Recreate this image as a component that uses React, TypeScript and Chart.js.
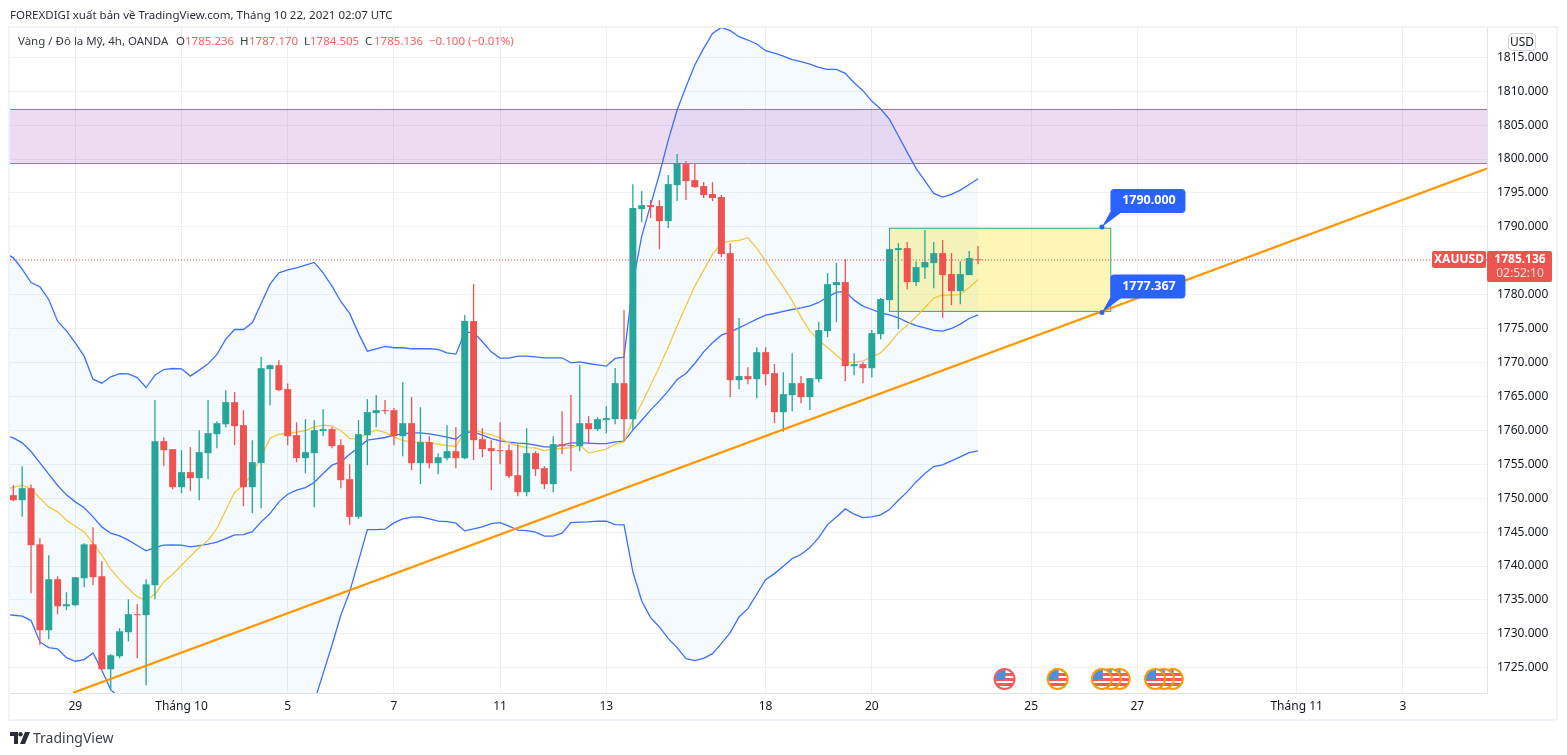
import { useEffect, useRef } from "react";
import { Chart, registerables } from "chart.js";

Chart.register(...registerables);

const FONT = '"Noto Sans", sans-serif';
const UP = "#26a69a";
const DOWN = "#ef5350";
const BLUE = "#2962ff";

// 4h candles, index 0 is the first one visible on the left
const opens = [
  1750.44, 1749.7, 1751.48, 1743.2, 1730.53, 1738.05, 1734.07, 1734.22, 1738.2, 1743.2,
  1738.5, 1724.78, 1726.7, 1730.24, 1732.9, 1732.75, 1737.17, 1758.41, 1757.23, 1751.62,
  1753.84, 1752.95, 1756.64, 1759.44, 1760.9, 1764.16, 1760.77, 1751.62, 1755.17, 1769.02,
  1769.61, 1766.08, 1759.3, 1755.9, 1756.64, 1759.9, 1760.18, 1757.82, 1752.8, 1747.25,
  1759.29, 1762.54, 1762.98, 1762.98, 1759.15, 1761.06, 1755.16, 1758.26, 1755.16, 1755.9,
  1756.93, 1755.9, 1776.11, 1758.7, 1757.38, 1757.08, 1757.08, 1753.39, 1750.89, 1756.64,
  1754.43, 1752.07, 1757.97, 1757.82, 1757.67, 1761.06, 1760.18, 1761.5, 1761.65, 1766.96,
  1761.65, 1792.62, 1793.21, 1793.07, 1790.85, 1796.16, 1799.26, 1796.9, 1796.02, 1794.84,
  1794.4, 1786.13, 1767.4, 1768, 1767.55, 1771.53, 1768.43, 1762.68, 1765.19, 1766.96,
  1764.9, 1767.55, 1774.63, 1781.41, 1781.86, 1769.47, 1769.76, 1769.17, 1774.19, 1779.2,
  1786.58, 1786.87, 1781.86, 1784.02, 1784.66, 1786.13, 1783.04, 1780.53, 1782.89, 1785.236,
];
const closes = [
  1749.7, 1751.48, 1743.07, 1730.53, 1738.05, 1734.07, 1734.37, 1738.35, 1743.2, 1738.35,
  1724.78, 1726.85, 1730.38, 1732.9, 1732.75, 1737.3, 1758.41, 1757.08, 1751.62, 1753.84,
  1752.95, 1756.79, 1759.59, 1761.06, 1764.16, 1760.62, 1751.62, 1755.31, 1769.17, 1769.61,
  1765.93, 1759.15, 1755.9, 1756.79, 1760.03, 1760.18, 1757.67, 1752.66, 1747.25, 1759.44,
  1762.69, 1762.98, 1762.83, 1759.15, 1761.06, 1755.16, 1758.26, 1755.16, 1756.05, 1756.93,
  1755.9, 1776.11, 1758.56, 1757.23, 1756.93, 1756.93, 1753.25, 1750.89, 1756.64, 1754.28,
  1752.07, 1757.97, 1757.67, 1757.67, 1761.06, 1760.18, 1761.65, 1761.8, 1766.96, 1761.65,
  1792.77, 1793.21, 1792.92, 1790.85, 1796.31, 1799.41, 1796.75, 1795.87, 1794.69, 1794.25,
  1785.99, 1767.4, 1768, 1767.55, 1771.53, 1768.29, 1762.68, 1765.34, 1766.96, 1764.9,
  1767.7, 1774.78, 1781.56, 1781.86, 1769.47, 1769.76, 1769.17, 1774.33, 1779.35, 1786.72,
  1786.87, 1781.86, 1784.07, 1784.81, 1786.13, 1782.89, 1780.53, 1783.04, 1785.4, 1785.136,
];
const highs = [
  1751.9, 1754.72, 1752.02, 1744.1, 1741.6, 1738.5, 1736.14, 1738.35, 1743.36, 1745.72,
  1740.71, 1727, 1730.83, 1735.1, 1734.37, 1738.05, 1764.46, 1759, 1757.23, 1757.08,
  1757.52, 1760.03, 1764.46, 1761.36, 1765.93, 1765.64, 1762.98, 1758.56, 1770.8, 1769.7,
  1770.35, 1766.9, 1761.2, 1761.65, 1761.5, 1763.1, 1760.47, 1758.7, 1755, 1761.5,
  1764.6, 1765.2, 1764.46, 1763.28, 1767.11, 1764.9, 1763.42, 1759.15, 1756.64, 1760.77,
  1760.47, 1777, 1781.57, 1760.33, 1758.56, 1761.21, 1757.97, 1757.97, 1760.33, 1756.93,
  1754.72, 1759.15, 1762.83, 1765.2, 1769.62, 1762.1, 1761.95, 1763.57, 1769.18, 1777.73,
  1796.3, 1795.28, 1793.95, 1793.95, 1797.64, 1800.74, 1799.7, 1799.26, 1796.6, 1796.6,
  1794.69, 1787.6, 1776.55, 1769.32, 1772.27, 1772.27, 1769.76, 1768.58, 1771.38, 1768,
  1767.7, 1775.96, 1783.18, 1784.66, 1785.25, 1771.38, 1770.06, 1774.78, 1779.5, 1786.72,
  1787.6, 1787.76, 1784.95, 1789.53, 1787.76, 1788.05, 1786.13, 1784.95, 1786.43, 1787.17,
];
const lows = [
  1749.56, 1747.25, 1735.99, 1728.32, 1729.2, 1732.9, 1733.48, 1734.07, 1736.87, 1737.17,
  1724.78, 1721.7, 1726.4, 1728.9, 1726.4, 1722.42, 1735.1, 1754.72, 1751.33, 1750.74,
  1751.03, 1749.7, 1752.8, 1757.38, 1760.47, 1757.82, 1748.82, 1747.79, 1748.53, 1763.7,
  1765.78, 1757.82, 1755.3, 1753.69, 1748.67, 1759.15, 1757.38, 1751.48, 1746.07, 1746.95,
  1754.87, 1760.47, 1762.39, 1757.82, 1756.2, 1754.13, 1752.07, 1754.43, 1753.54, 1755.61,
  1754.43, 1755.75, 1755.61, 1756.05, 1751.18, 1755.02, 1752.95, 1750.3, 1750.3, 1753.25,
  1751.33, 1750.89, 1756.49, 1753.98, 1756.93, 1757.97, 1759.89, 1759.59, 1760.9, 1758.41,
  1760, 1790.7, 1791.3, 1786.72, 1789.82, 1793.8, 1793.95, 1795.72, 1794.25, 1793.8,
  1785.54, 1764.9, 1766.07, 1766.8, 1764.75, 1766.66, 1761.06, 1759.8, 1762.83, 1764.01,
  1763, 1767.11, 1773.74, 1775.96, 1767.25, 1768.14, 1766.96, 1767.84, 1773.45, 1779.2,
  1774.92, 1780.82, 1781.27, 1782.3, 1780.97, 1776.55, 1778.46, 1778.6, 1782.89, 1784.505,
];

// indicators start one candle before index 0, off the left edge
const upperBand = [
  1786.2, 1785.44, 1783.77, 1781.8, 1781.17, 1779.3, 1776.1, 1774.68, 1772.9, 1770.94,
  1767.55, 1766.96, 1767.9, 1768.38, 1768.33, 1767.79, 1766.32, 1768.14, 1768.97, 1769.12,
  1769.07, 1768, 1768.88, 1769.81, 1771.19, 1773.45, 1774.87, 1774.87, 1775.86, 1778.71,
  1781.56, 1783.23, 1783.67, 1783.97, 1784.36, 1784.76, 1783.23, 1781.27, 1779, 1777.24,
  1774.3, 1771.68, 1772.03, 1772.37, 1772.18, 1772.18, 1772.03, 1772.03, 1772.03, 1771.93,
  1771.44, 1771.24, 1774.44, 1774.44, 1773.06, 1771.58, 1770.65, 1770.65, 1770.95, 1770.95,
  1770.85, 1770.7, 1770.7, 1770.7, 1769.96, 1770.1, 1769.86, 1769.67, 1769.47, 1770.6,
  1770.8, 1781.66, 1788.64, 1793.2, 1797.8, 1802.8, 1807.23, 1810.67, 1813.86, 1816.32,
  1818.53, 1819.42, 1818.93, 1818.04, 1817.55, 1816.96, 1815.98, 1815.63, 1815.19, 1814.65,
  1814.35, 1814.01, 1813.52, 1813.22, 1813.22, 1812.63, 1811.26, 1810.08, 1808.55, 1807.37,
  1805.85, 1803.44, 1800.98, 1798.62, 1796.8, 1794.93, 1794.39, 1794.79, 1795.43, 1796.26, 1797.1,
];
const middleBand = [
  1759.29, 1758.9, 1758.16, 1756.88, 1755.21, 1753.54, 1751.87, 1750.49, 1749.46, 1748.58,
  1747.25, 1745.77, 1744.84, 1744.45, 1743.81, 1743.02, 1742.23, 1742.72, 1743.07, 1743.12,
  1743.07, 1742.82, 1743.02, 1743.22, 1743.51, 1744.05, 1744.59, 1744.64, 1745.08, 1746.51,
  1747.74, 1749.46, 1750.59, 1751.18, 1751.57, 1752.31, 1753.64, 1754.87, 1755.36, 1756.49,
  1757.47, 1758.56, 1758.75, 1758.95, 1759.29, 1759.49, 1759.64, 1759.64, 1759.49, 1759.25,
  1759, 1758.7, 1759.79, 1759.74, 1759.29, 1758.8, 1758.46, 1758.26, 1758.11, 1758.06,
  1757.82, 1757.57, 1757.57, 1757.82, 1758.16, 1758.16, 1758.11, 1758.06, 1758.06, 1758.31,
  1758.41, 1760.03, 1761.5, 1762.98, 1764.35, 1765.83, 1767.5, 1768.39, 1769.86, 1771.58,
  1772.91, 1774.04, 1774.53, 1775.12, 1775.76, 1776.4, 1777, 1777.23, 1777.53, 1777.82,
  1778.07, 1778.37, 1778.86, 1779.69, 1780.33, 1780.53, 1779.2, 1778.32, 1777.82, 1777.33,
  1777.04, 1776.6, 1775.96, 1775.46, 1775.12, 1774.73, 1774.63, 1775.02, 1775.66, 1776.5, 1777.04,
];
const lowerBand = [
  1732.9, 1732.74, 1732.6, 1731.96, 1728.81, 1727.98, 1727.78, 1726.5, 1725.96, 1726.2,
  1727.19, 1724.63, 1721.78, 1720.52, 1719.29, 1718.25, 1718.14, 1717.3, 1717.17, 1717.12,
  1717.07, 1717.64, 1717.16, 1716.63, 1715.83, 1714.65, 1714.31, 1714.41, 1714.3, 1714.31,
  1713.92, 1715.69, 1717.51, 1718.39, 1718.78, 1719.96, 1724.14, 1728.32, 1732.74, 1736.19,
  1740.76, 1745.38, 1745.38, 1745.43, 1746.36, 1746.95, 1747.2, 1747.25, 1746.95, 1746.61,
  1746.56, 1746.31, 1745.18, 1745.48, 1745.77, 1746.26, 1746.41, 1745.87, 1745.28, 1745.23,
  1744.99, 1744.4, 1744.4, 1744.84, 1746.41, 1746.46, 1746.51, 1746.61, 1746.6, 1746.11,
  1746.06, 1739.13, 1734.85, 1732.39, 1731.02, 1729.3, 1727.97, 1726.35, 1726.05, 1726.4,
  1727.08, 1728.56, 1730.18, 1732.49, 1733.72, 1735.84, 1738, 1738.88, 1739.97, 1741.1,
  1741.69, 1742.72, 1744.19, 1746.11, 1747.24, 1748.42, 1747.64, 1747.14, 1747.24, 1747.54,
  1748.32, 1749.7, 1750.93, 1752.4, 1753.63, 1754.67, 1754.91, 1755.5, 1756.09, 1756.73, 1756.98,
];
const fastAverage = [
  1751.28, 1751.58, 1751.92, 1751.38, 1750, 1748.72, 1747.98, 1746.76, 1745.87, 1745.04,
  1743.31, 1741.59, 1739.53, 1738, 1736.68, 1735.45, 1734.96, 1735.84, 1737.66, 1738.79,
  1740.12, 1741.45, 1742.68, 1743.81, 1745.53, 1748.23, 1750.89, 1751.92, 1753.64, 1756,
  1758.85, 1759.44, 1759.54, 1759.74, 1759.98, 1760.52, 1760.77, 1760.67, 1759.98, 1758.8,
  1758.75, 1759.54, 1760.03, 1759.69, 1759.05, 1758.51, 1758.31, 1758.26, 1758.21, 1757.97,
  1757.77, 1757.62, 1759.79, 1760.03, 1759.69, 1759.34, 1758.9, 1758.16, 1757.72, 1757.47,
  1757.42, 1757.03, 1757.28, 1757.33, 1757.47, 1757.82, 1756.69, 1756.93, 1757.23, 1757.97,
  1758.31, 1761.5, 1763.96, 1766.66, 1769.37, 1772.32, 1775.37, 1778.37, 1781.27, 1783.63,
  1785.99, 1787.56, 1787.9, 1788, 1788.4, 1786.82, 1785, 1782.99, 1781.17, 1779.1,
  1776.74, 1774.63, 1773.3, 1772.22, 1771.09, 1769.96, 1770.06, 1770.25, 1770.84, 1771.43,
  1772.81, 1774.38, 1775.51, 1776.74, 1778.12, 1779.5, 1779.99, 1779.94, 1780.04, 1781.07, 1782.25,
];

const xTickIndex = [7, 19, 31, 43, 55, 67, 85, 97, 115, 127, 145, 157];
const xTickLabels = ["29", "Tháng 10", "5", "7", "11", "13", "18", "20", "25", "27", "Tháng 11", "3"];

const trendIndex = [6.74, 166.51];
const trendPrice = [1721.3, 1798.6];

const purpleZone = [1799.34, 1807.3];
const yellowZoneIndex = [99, 124];
const yellowZonePrice = [1777.54, 1789.8];

const calloutIndex = 123;
const calloutPrices = [1790, 1777.367];

const eventIndex = [112, 118, 123, 124, 125, 129, 130, 131];
const eventPast = [true, false, false, false, false, false, false, false];

const X_MIN = -0.379;
const X_MAX = 166.51;
const Y_MIN = 1721.28;
const Y_MAX = 1819.47;

const lastClose = closes[closes.length - 1];

function roundRect(ctx: CanvasRenderingContext2D, x: number, y: number, w: number, h: number, r: number) {
  ctx.beginPath();
  ctx.roundRect(x, y, w, h, r);
  ctx.fill();
}

function drawFlag(ctx: CanvasRenderingContext2D, x: number, y: number, color: string) {
  const r = 10;
  ctx.save();
  ctx.beginPath();
  ctx.arc(x, y, r, 0, Math.PI * 2);
  ctx.fillStyle = "#fff";
  ctx.fill();
  ctx.clip();
  ctx.fillStyle = "#f7595a";
  ctx.fillRect(x - r, y - 1, 2 * r, 3);
  ctx.fillRect(x - r, y + 4, 2 * r, 3);
  ctx.fillRect(x, y - 6, r, 3);
  ctx.fillStyle = "#4a90e2";
  ctx.fillRect(x - r, y - r, r + 1, r);
  ctx.restore();
  ctx.beginPath();
  ctx.arc(x, y, r, 0, Math.PI * 2);
  ctx.strokeStyle = color;
  ctx.lineWidth = 2;
  ctx.stroke();
}

// zones sit under the candles and the band fill
const zonesPlugin = {
  id: "zones",
  beforeDatasetsDraw(chart: any) {
    const { ctx, chartArea, scales } = chart;
    const x = scales.x;
    const y = scales.y;
    ctx.save();
    const top = y.getPixelForValue(purpleZone[1]);
    const bottom = y.getPixelForValue(purpleZone[0]);
    ctx.fillStyle = "rgba(156,39,176,0.17)";
    ctx.fillRect(chartArea.left, top, chartArea.width, bottom - top);
    ctx.strokeStyle = "#4f9b9b";
    ctx.lineWidth = 1;
    ctx.beginPath();
    ctx.moveTo(chartArea.left, top);
    ctx.lineTo(chartArea.right, top);
    ctx.moveTo(chartArea.left, bottom);
    ctx.lineTo(chartArea.right, bottom);
    ctx.stroke();

    const left = x.getPixelForValue(yellowZoneIndex[0]);
    const right = x.getPixelForValue(yellowZoneIndex[1]);
    const yTop = y.getPixelForValue(yellowZonePrice[1]);
    const yBottom = y.getPixelForValue(yellowZonePrice[0]);
    ctx.fillStyle = "rgba(251,235,100,0.47)";
    ctx.fillRect(left, yTop, right - left, yBottom - yTop);
    ctx.strokeStyle = "#2ea58f";
    ctx.strokeRect(left, yTop, right - left, yBottom - yTop);
    ctx.restore();
  },
};

const overlayPlugin = {
  id: "overlay",
  afterDatasetsDraw(chart: any) {
    const { ctx, scales } = chart;
    const x = scales.x;
    const y = scales.y;
    ctx.save();

    // price callouts
    calloutPrices.forEach((price) => {
      const px = x.getPixelForValue(calloutIndex);
      const py = y.getPixelForValue(price);
      const boxTop = py - 38;
      ctx.fillStyle = BLUE;
      ctx.beginPath();
      ctx.moveTo(px, py);
      ctx.lineTo(px + 10, boxTop + 20);
      ctx.lineTo(px + 24, boxTop + 20);
      ctx.closePath();
      ctx.fill();
      roundRect(ctx, px + 8.5, boxTop, 75, 24, 4);
      ctx.beginPath();
      ctx.arc(px, py, 2.5, 0, Math.PI * 2);
      ctx.fill();
      ctx.fillStyle = "#fff";
      ctx.font = `bold 12.5px ${FONT}`;
      ctx.textAlign = "center";
      ctx.textBaseline = "middle";
      ctx.fillText(price.toFixed(3), px + 47, boxTop + 12);
    });

    // economic event flags, leftmost of a group on top
    for (let i = eventIndex.length - 1; i >= 0; i--) {
      drawFlag(ctx, x.getPixelForValue(eventIndex[i]), 679, eventPast[i] ? "#f7595a" : "#ff9800");
    }

    // last price tags
    const py = y.getPixelForValue(lastClose);
    ctx.fillStyle = DOWN;
    roundRect(ctx, 1432, py - 9, 54, 17, 2);
    roundRect(ctx, 1487, py - 9, 65, 31, 2);
    ctx.textAlign = "center";
    ctx.textBaseline = "middle";
    ctx.font = `bold 12px ${FONT}`;
    ctx.fillStyle = "#fff";
    ctx.fillText("XAUUSD", 1459, py);
    ctx.fillText(lastClose.toFixed(3), 1520, py);
    ctx.font = `12px ${FONT}`;
    ctx.fillStyle = "#fbdcdb";
    ctx.fillText("02:52:10", 1520, py + 14);
    ctx.restore();
  },
};

function line(data: number[], color: string, order: number, extra: object = {}) {
  return {
    type: "line" as const,
    data: data.map((v, i) => ({ x: i - 1, y: v })),
    borderColor: color,
    borderWidth: 1.3,
    pointRadius: 0,
    tension: 0,
    fill: false,
    order,
    ...extra,
  };
}

function PriceChart() {
  const canvasRef = useRef<HTMLCanvasElement>(null);

  useEffect(() => {
    const canvas = canvasRef.current;
    if (!canvas) return;

    const colors = opens.map((o, i) => (closes[i] >= o ? UP : DOWN));
    const chart = new Chart(canvas, {
      type: "bar",
      data: {
        datasets: [
          line(upperBand, "#3a70ff", 6, { fill: { target: 1 }, backgroundColor: "rgba(33,150,243,0.05)" }),
          line(lowerBand, "#3a70ff", 5),
          line(middleBand, "#3a70ff", 5),
          line(fastAverage, "#f5c842", 4),
          {
            type: "bar" as const,
            data: lows.map((l, i) => ({ x: i, y: [l, highs[i]] })),
            backgroundColor: colors,
            barThickness: 1.3,
            grouped: false,
            inflateAmount: 0,
            order: 3,
          },
          {
            type: "bar" as const,
            data: opens.map((o, i) => ({ x: i, y: [o, closes[i]] })),
            backgroundColor: colors,
            barThickness: 7,
            grouped: false,
            inflateAmount: 0,
            order: 2,
          },
          {
            type: "line" as const,
            data: [
              { x: X_MIN, y: lastClose },
              { x: X_MAX, y: lastClose },
            ],
            borderColor: DOWN,
            borderWidth: 1,
            borderDash: [1, 2],
            pointRadius: 0,
            order: 1,
          },
          {
            type: "line" as const,
            data: trendIndex.map((v, i) => ({ x: v, y: trendPrice[i] })),
            borderColor: "#ff9800",
            borderWidth: 2.2,
            pointRadius: 0,
            order: 0,
          },
        ],
      } as any,
      options: {
        responsive: false,
        animation: false,
        devicePixelRatio: 1,
        layout: { padding: { left: 10, right: 12, top: 27, bottom: 35 } },
        plugins: { legend: { display: false }, tooltip: { enabled: false } },
        scales: {
          x: {
            type: "linear",
            min: X_MIN,
            max: X_MAX,
            offset: false,
            afterFit: (s: any) => {
              s.height = 27;
            },
            afterBuildTicks: (s: any) => {
              s.ticks = xTickIndex.map((value) => ({ value }));
            },
            // the bar chart default would put grid lines between the ticks
            grid: { color: "#eceef3", drawTicks: false, offset: false },
            border: { color: "#e0e3eb" },
            ticks: {
              autoSkip: false,
              maxRotation: 0,
              padding: 6,
              color: "#131722",
              font: { family: FONT, size: 12 },
              callback: (v: any) => xTickLabels[xTickIndex.indexOf(Number(v))] ?? "",
            },
          },
          y: {
            type: "linear",
            position: "right",
            min: Y_MIN,
            max: Y_MAX,
            afterFit: (s: any) => {
              s.width = 68;
            },
            grid: { color: "#f0f1f5", drawTicks: false },
            border: { color: "#e0e3eb" },
            ticks: {
              stepSize: 5,
              includeBounds: false,
              autoSkip: false,
              padding: 10,
              color: "#131722",
              font: { family: FONT, size: 12 },
              callback: (v: any) => Number(v).toFixed(3),
            },
          },
        },
      } as any,
      plugins: [zonesPlugin, overlayPlugin],
    });

    return () => chart.destroy();
  }, []);

  return <canvas ref={canvasRef} width={1567} height={755} style={{ display: "block" }} />;
}

function Label({ x, color, text }: { x: number; color: string; text: string }) {
  return <span style={{ position: "absolute", left: x, top: 33, color, whiteSpace: "pre", fontSize: 11.5 }}>{text}</span>;
}

export default function App() {
  const last = opens.length - 1;
  const red = "#f5615e";
  return (
    <div
      style={{
        position: "absolute",
        left: 0,
        top: 0,
        width: 1567,
        height: 755,
        background: "#fff",
        overflow: "hidden",
        fontFamily: FONT,
        fontSize: 12,
        lineHeight: "16px",
        color: "#131722",
      }}
    >
      <PriceChart />
      {/* frame around the chart */}
      <div style={{ position: "absolute", left: 8, top: 26, width: 1546, height: 691, border: "2px solid #f0f3fa" }} />
      <div style={{ position: "absolute", left: 10, top: 7, whiteSpace: "pre", color: "#2a2e39", fontSize: 11.5 }}>
        FOREXDIGI xuất bản về TradingView.com, Tháng 10 22, 2021 02:07 UTC
      </div>
      <Label x={18} color="#363a45" text="Vàng / Đô la Mỹ, 4h, OANDA" />
      <Label x={176} color="#363a45" text="O" />
      <Label x={185} color={red} text={opens[last].toFixed(3)} />
      <Label x={240} color="#363a45" text="H" />
      <Label x={249} color={red} text={highs[last].toFixed(3)} />
      <Label x={304} color="#363a45" text="L" />
      <Label x={310} color={red} text={lows[last].toFixed(3)} />
      <Label x={365} color="#363a45" text="C" />
      <Label x={374} color={red} text={closes[last].toFixed(3)} />
      <Label x={429} color={red} text="−0.100 (−0.01%)" />
      <div
        style={{
          position: "absolute",
          left: 1508,
          top: 33,
          width: 26,
          height: 16,
          border: "1px solid #d1d4dc",
          borderRadius: 4,
          background: "#fff",
          textAlign: "center",
        }}
      >
        USD
      </div>
      <svg style={{ position: "absolute", left: 10, top: 732 }} width={20} height={12} viewBox="0 0 20 12">
        <path d="M0 0h8v12H4V4H0z M15 0h5l-5 12h-5z" fill="#2a2e39" />
        <circle cx={10.5} cy={2.2} r={2.2} fill="#2a2e39" />
      </svg>
      <div style={{ position: "absolute", left: 33, top: 729, fontSize: 14, lineHeight: "18px", color: "#3c404a" }}>
        TradingView
      </div>
    </div>
  );
}
